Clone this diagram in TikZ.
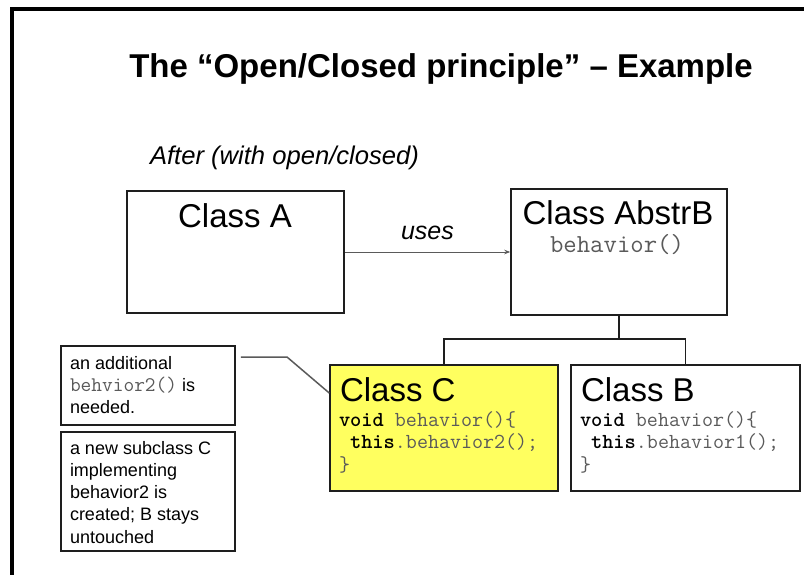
\documentclass[tikz,border=0pt]{standalone}
\usepackage{fontspec}
\setmainfont{Liberation Sans}
\usetikzlibrary{arrows.meta}
\definecolor{boxline}{RGB}{30,30,30}
\definecolor{codegray}{RGB}{90,90,90}
\definecolor{noteline}{RGB}{90,90,90}
\definecolor{classyellow}{RGB}{255,255,95}
\newcommand{\codefnt}{\ttfamily}
\tikzset{
  box/.style={draw=boxline, line width=1.5pt, rectangle, inner sep=0pt},
  lbl/.style={inner sep=0pt, outer sep=0pt, anchor=base west},
  lblc/.style={inner sep=0pt, outer sep=0pt, anchor=base},
  big/.style={font=\fontsize{33}{36}\selectfont},
  code/.style={font=\codefnt\fontsize{21.4}{24}\selectfont},
  note/.style={font=\fontsize{18}{22}\selectfont},
  conn/.style={draw=boxline, line width=1.5pt},
}
\begin{document}
\begin{tikzpicture}[x=1pt,y=-1pt]
\useasboundingbox (0,0) rectangle (804,575);
\fill[white] (0,0) rectangle (804,575);
% frame
\fill[black] (10,7) rectangle (804,11);
\fill[black] (10,7) rectangle (14,575);
% title
\node[lblc, font=\bfseries\fontsize{33}{36}\selectfont] (title) at (441,78) {The “Open/Closed principle” – Example};
\node[lbl, font=\itshape\fontsize{25.6}{28}\selectfont] (after) at (150,165) {After (with open/closed)};
% boxes
\node[box, minimum width=217pt, minimum height=122pt] (A) at (235.5,252) {};
\node[box, minimum width=216pt, minimum height=126pt] (AB) at (619,252) {};
\node[box, fill=classyellow, minimum width=228pt, minimum height=126pt] (C) at (444,428) {};
\node[box, minimum width=229pt, minimum height=126pt] (B) at (685.5,428) {};
\node[box, minimum width=174pt, minimum height=79pt] (N1) at (148,385.5) {};
\node[box, minimum width=174pt, minimum height=119pt] (N2) at (148,491.5) {};
% texts in boxes
\node[lblc, big] (tA) at (235,227) {Class A};
\node[lblc, big] (tAB) at (618,225) {Class AbstrB};
\node[lblc, font=\codefnt\fontsize{26}{28}\selectfont, text=codegray] (tABm) at (617,252) {behavior()};
\node[lbl, big] (tC) at (340,401.7) {Class C};
\node[lbl, code] (c1) at (339,426) {\textbf{void}\ \textcolor{codegray}{behavior()\{}};
\node[lbl, code] (c2) at (339,448.5) {\ \textbf{this}\textcolor{codegray}{.behavior2();}};
\node[lbl, code, text=codegray] (c3) at (339,471.5) {\}};
\node[lbl, big] (tB) at (581,401.7) {Class B};
\node[lbl, code] (b1) at (580,426) {\textbf{void}\ \textcolor{codegray}{behavior()\{}};
\node[lbl, code] (b2) at (580,448.5) {\ \textbf{this}\textcolor{codegray}{.behavior1();}};
\node[lbl, code, text=codegray] (b3) at (580,471.5) {\}};
% notes
\node[lbl, note] (n1a) at (70,369.3) {an additional};
\node[lbl, note] (n1b) at (70,391) {{\codefnt\fontsize{20.8}{22}\selectfont\color{codegray}behvior2()} is};
\node[lbl, note] (n1c) at (70,413.3) {needed.};
\node[lbl, note] (n2a) at (70,454) {a new subclass C};
\node[lbl, note] (n2b) at (70,476.3) {implementing};
\node[lbl, note] (n2c) at (70,498.5) {behavior2 is};
\node[lbl, note] (n2d) at (70,520.7) {created; B stays};
\node[lbl, note] (n2e) at (70,543) {untouched};
% uses arrow
\draw[draw=noteline, line width=1pt, -{Stealth[length=6pt,width=4.5pt]}] (A.east) -- (AB.west)
  node[midway, lblc, font=\itshape\fontsize{25}{28}\selectfont, yshift=12pt] (uses) {uses};
% inheritance tree
\coordinate (bus) at (619,339);
\draw[conn] (AB.south) -- (bus);
\draw[conn] (C.north) |- (bus) -| (B.north);
% note connector
\coordinate (nstart) at ([xshift=5pt,yshift=28.5pt]N1.east);
\coordinate (knee) at (287,357);
\draw[draw=noteline, line width=1.5pt] (nstart) -- (knee) -- ([yshift=35pt]C.west);
\end{tikzpicture}
\end{document}
